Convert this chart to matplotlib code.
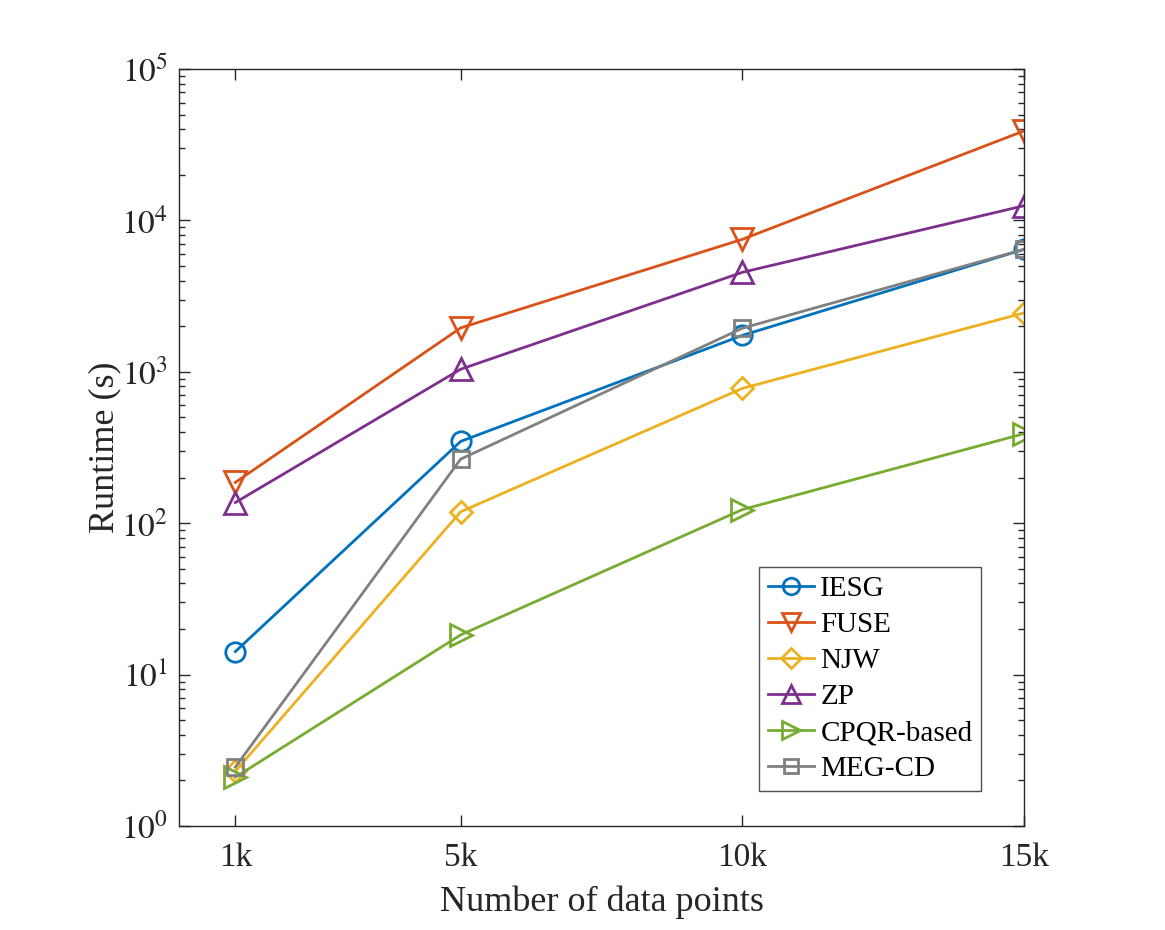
import matplotlib
matplotlib.use('Agg')
import matplotlib.pyplot as plt
from matplotlib.ticker import LogLocator, NullFormatter, FuncFormatter
import numpy as np

plt.rcParams['font.family'] = ['Liberation Serif', 'DejaVu Serif']
plt.rcParams['mathtext.fontset'] = 'stix'

n_points = [1000, 5000, 10000, 15000]
tick_labels = ['1k', '5k', '10k', '15k']

iesg = [14.2, 347, 1740, 6440]
fuse = [186, 1950, 7500, 39000]
njw = [2.3, 119, 777, 2450]
zp = [137, 1040, 4540, 12500]
cpqr = [2.1, 18.3, 123, 390]
megcd = [2.45, 265, 1940, 6440]

series = [
    ('IESG', iesg, '#0072BD', 'o', 14),
    ('FUSE', fuse, '#D95319', 'v', 16),
    ('NJW', njw, '#EDB120', 'D', 11.5),
    ('ZP', zp, '#7E2F8E', '^', 16),
    ('CPQR-based', cpqr, '#77AC30', '>', 16),
    ('MEG-CD', megcd, '#808080', 's', 12),
]

fig = plt.figure(figsize=(11.65, 9.3), dpi=100)
ax = fig.add_axes([179 / 1165, 1 - 826 / 930, (1024 - 179) / 1165, (826 - 69) / 930])

for name, vals, color, marker, ms in series:
    ax.plot(n_points, vals, color=color, marker=marker, markersize=ms,
            markerfacecolor='none', markeredgewidth=2, linewidth=2, label=name)

ax.set_yscale('log')
ax.set_xlim(0, 15000)
ax.set_ylim(1, 1e5)
ax.set_xticks(n_points)
ax.set_xticklabels(tick_labels)
ax.yaxis.set_major_locator(LogLocator(base=10, numticks=10))
ax.yaxis.set_major_formatter(FuncFormatter(lambda v, p: f'$10^{{{int(round(np.log10(v)))}}}$'))
ax.yaxis.set_minor_locator(LogLocator(base=10, subs=range(2, 10), numticks=10))
ax.yaxis.set_minor_formatter(NullFormatter())

ax.tick_params(which='both', direction='in', top=True, right=True, labelsize=24,
               colors='#262626', width=1)
ax.tick_params(which='major', length=8)
ax.tick_params(which='minor', length=4)
ax.tick_params(axis='x', pad=12)
ax.tick_params(axis='y', pad=8)
for s in ax.spines.values():
    s.set_color('#262626')
    s.set_linewidth(1)

ax.set_xlabel('Number of data points', fontsize=26, color='#262626', labelpad=9)
ax.set_ylabel('Runtime (s)', fontsize=26, color='#262626', labelpad=0)

leg = ax.legend(loc='upper left', bbox_to_anchor=((759 - 179) / 845, (826 - 567) / 757),
                fontsize=21, frameon=True, fancybox=False, edgecolor='#262626',
                handlelength=1.6, handletextpad=0.2, borderpad=0.3,
                labelspacing=0.33, borderaxespad=0, markerscale=0.85)
leg.get_frame().set_linewidth(1)

fig.savefig('out.png', dpi=100)
